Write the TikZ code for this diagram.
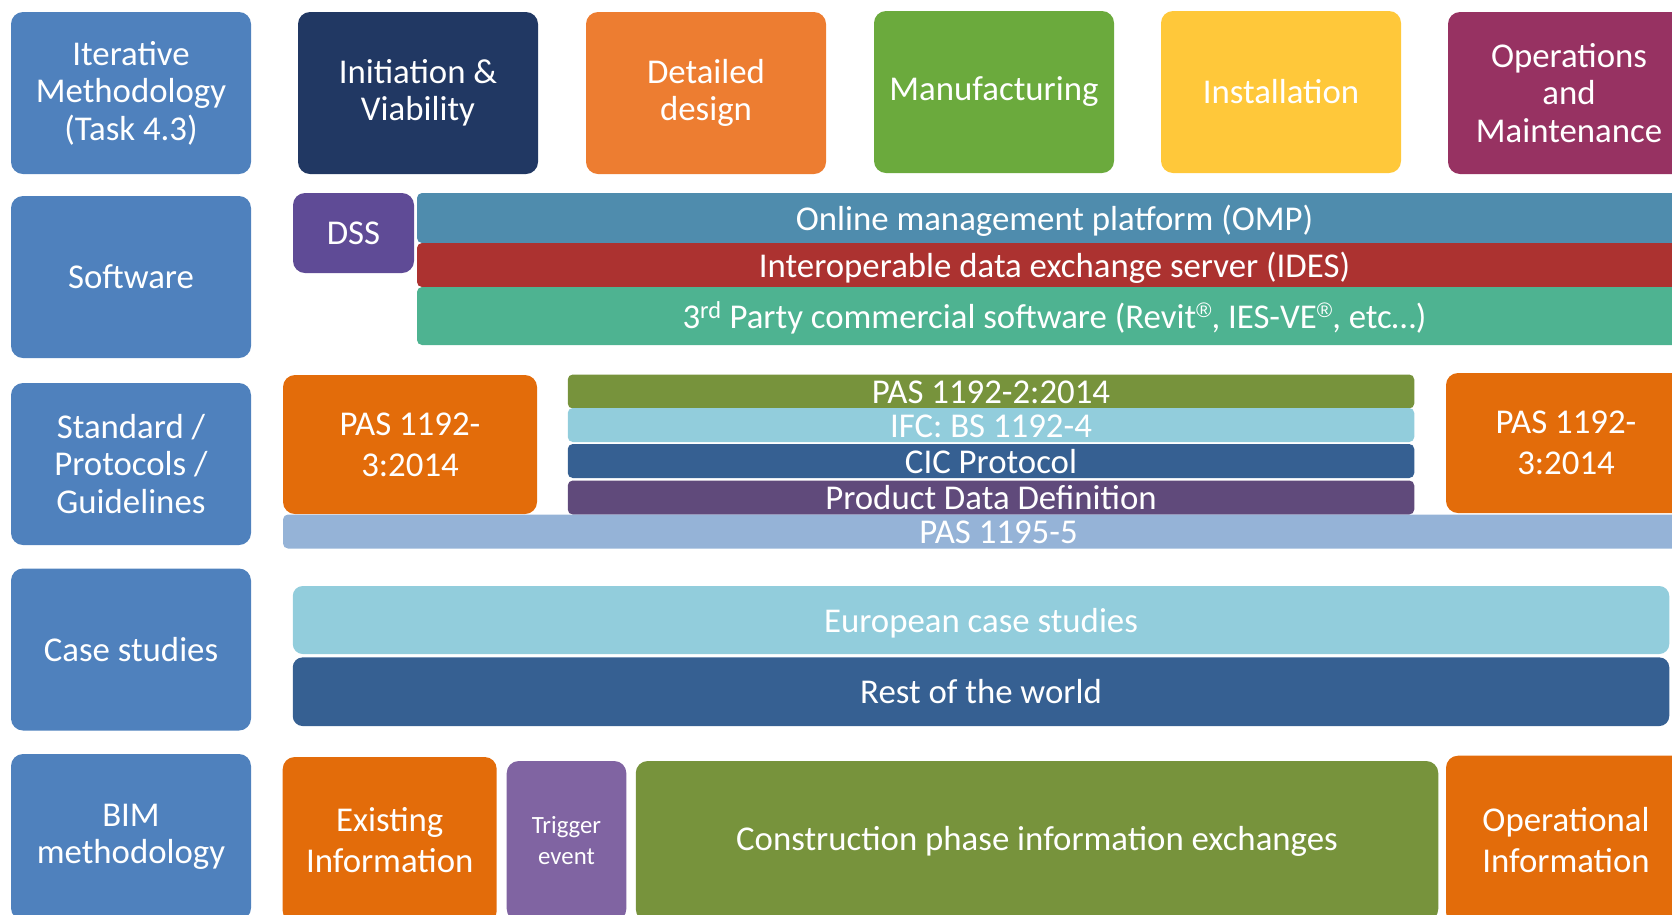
\documentclass[tikz,border=0pt]{standalone}
\usepackage{fontspec}
\setmainfont{Carlito}
\newfontfamily\regfont{Liberation Sans}
\definecolor{labblue}{HTML}{4F81BD}
\definecolor{navy}{HTML}{213863}
\definecolor{orangeA}{HTML}{ED7D31}
\definecolor{greenA}{HTML}{6BAA3D}
\definecolor{yellowA}{HTML}{FFC83A}
\definecolor{plum}{HTML}{973262}
\definecolor{dsspurple}{HTML}{5F4B96}
\definecolor{ompblue}{HTML}{4F8CAD}
\definecolor{idesred}{HTML}{AC3230}
\definecolor{teal}{HTML}{4EB391}
\definecolor{orangeB}{HTML}{E36C0A}
\definecolor{olive}{HTML}{77933C}
\definecolor{lightblue}{HTML}{92CDDC}
\definecolor{midblue}{HTML}{366092}
\definecolor{violet}{HTML}{604A7B}
\definecolor{paleblue}{HTML}{95B3D7}
\definecolor{lilac}{HTML}{8064A2}
\newcommand{\regmark}{\raisebox{10.5pt}{\fontsize{21}{21}\regfont ®}}
\begin{document}
\begin{tikzpicture}[x=1pt,y=-1pt,
  base/.style={rectangle, inner sep=0pt, outer sep=0pt, text=white, align=center, font={\fontsize{34.8}{37.5}\selectfont}},
  tile/.style={base, rounded corners=12pt},
  bar/.style={base, rounded corners=5pt, text height=29pt, text depth=5pt},
  wide/.style={base, rounded corners=10pt, text height=29pt, text depth=5pt},
  lab/.style={tile, fill=labblue, minimum width=240pt, minimum height=162pt},
  phase/.style={tile, minimum width=240pt, minimum height=162pt}
]
\useasboundingbox (0,0) rectangle (1672,914);
\clip (0,0) rectangle (1672,914);

% left column
\node[lab] (iter) at (131,93) {Iterative\\Methodology\\(Task 4.3)};
\node[lab] (soft) at (131,277) {Software};
\node[lab] (std) at (131,464) {Standard /\\Protocols /\\Guidelines};
\node[lab] (case) at (131,649.5) {Case studies};
\node[lab, minimum height=166pt] (bim) at (131,837) {BIM\\methodology};

% row 1: phases
\node[phase, fill=navy] (init) at (418,93) {Initiation \&\\Viability};
\node[phase, fill=orangeA] (detail) at (706,93) {Detailed\\design};
\node[phase, fill=greenA] (manu) at (994,92) {Manufacturing};
\node[phase, fill=yellowA] (inst) at (1281,92) {Installation};
\node[phase, fill=plum, minimum width=242pt] (ops) at (1569,93) {Operations\\and\\Maintenance};

% row 2: software
\node[tile, fill=dsspurple, minimum width=121pt, minimum height=80pt] (dss) at (353.5,233) {DSS};
\node[bar, fill=ompblue, minimum width=1275pt, minimum height=50pt] (omp) at (1054.5,218) {Online management platform (OMP)};
\node[bar, fill=idesred, minimum width=1275pt, minimum height=44pt] (ides) at (1054.5,265) {Interoperable data exchange server (IDES)};
\node[bar, fill=teal, minimum width=1275pt, minimum height=58pt] (third) at (1054.5,316) {3\textsuperscript{rd} Party commercial software (Revit\regmark, IES-VE\regmark, etc…)};

% row 3: standards
\node[tile, fill=orangeB, minimum width=254pt, minimum height=139pt, font={\fontsize{34.8}{40.7}\selectfont}] (pasL) at (410,444.5) {PAS 1192-\\3:2014};
\node[tile, fill=orangeB, minimum width=240pt, minimum height=140pt, font={\fontsize{34.8}{40.7}\selectfont}] (pasR) at (1566,443) {PAS 1192-\\3:2014};
\node[bar, fill=olive, minimum width=846.5pt, minimum height=31pt] (pas2) at (991,391.5) {PAS 1192-2:2014};
\node[bar, fill=lightblue, minimum width=846.5pt, minimum height=31pt] (ifc) at (991,425) {IFC: BS 1192-4};
\node[bar, fill=midblue, minimum width=846.5pt, minimum height=30pt] (cic) at (991,461) {CIC Protocol};
\node[bar, fill=violet, minimum width=846.5pt, minimum height=31pt] (pdd) at (991,497.5) {Product Data Definition};
\node[bar, fill=paleblue, minimum width=1431pt, minimum height=31.6pt] (pas5) at (998.5,531.5) {PAS 1195-5};

% row 4: case studies
\node[wide, fill=lightblue, minimum width=1376.5pt, minimum height=68pt] (euro) at (981,620) {European case studies};
\node[wide, fill=midblue, minimum width=1376.5pt, minimum height=68.7pt] (rest) at (981,691.7) {Rest of the world};

% row 5: BIM methodology
\node[tile, fill=orangeB, minimum width=214pt, minimum height=166pt, font={\fontsize{34.8}{41.7}\selectfont}] (exist) at (389.7,840) {Existing\\Information};
\node[tile, fill=lilac, minimum width=119.6pt, minimum height=160pt, font={\fontsize{24.8}{31}\selectfont}] (trig) at (566.5,841) {Trigger\\event};
\node[tile, fill=olive, minimum width=802.5pt, minimum height=160pt] (cons) at (1037,841) {Construction phase information exchanges};
\node[tile, fill=orangeB, minimum width=240pt, minimum height=168.6pt, font={\fontsize{34.8}{41.7}\selectfont}] (oper) at (1566,840) {Operational\\Information};
\end{tikzpicture}
\end{document}
